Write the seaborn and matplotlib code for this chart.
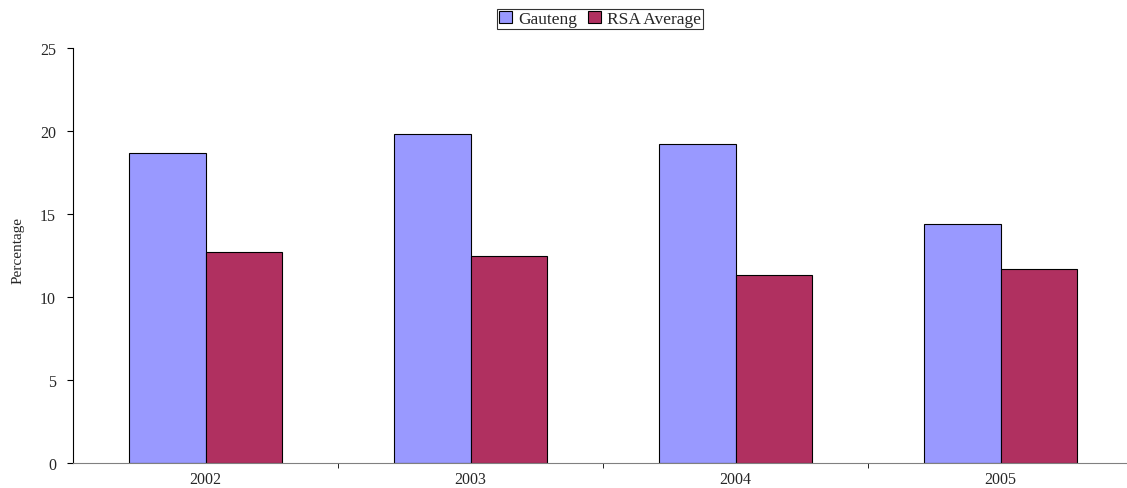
import pandas as pd
import matplotlib.pyplot as plt
import seaborn as sns
from matplotlib.ticker import FixedLocator

# values
years = ["2002", "2003", "2004", "2005"]
gauteng = [18.7, 19.8, 19.2, 14.4]
rsa_average = [12.7, 12.5, 11.3, 11.7]
series_names = ["Gauteng", "RSA Average"]
colors = ["#9999FF", "#B03060"]

df = pd.DataFrame({
    "year": years * 2,
    "value": gauteng + rsa_average,
    "series": [series_names[0]] * len(years) + [series_names[1]] * len(years),
})

sns.set_style("white")
plt.rcParams["font.family"] = ["Liberation Serif", "DejaVu Serif"]

fig = plt.figure(figsize=(11.27, 4.89), dpi=100)
ax = fig.add_axes([73 / 1127, 25 / 489, 1060 / 1127, 415 / 489])

sns.barplot(data=df, x="year", y="value", hue="series", palette=colors,
            width=0.58, gap=0, edgecolor="black", linewidth=0.8,
            saturation=1, ax=ax)

ax.set_xlim(-0.5, 3.5)
ax.set_ylim(0, 25)
ax.set_yticks([0, 5, 10, 15, 20, 25])
ax.set_xlabel("")
ax.set_ylabel("Percentage", fontsize=11)
ax.yaxis.set_label_coords(-0.046, 0.515)

ax.tick_params(axis="x", which="major", length=0, labelsize=11.5, pad=6)
ax.xaxis.set_minor_locator(FixedLocator([0.5, 1.5, 2.5]))
ax.tick_params(axis="x", which="minor", length=3.5, direction="out", color="black", bottom=True)
ax.tick_params(axis="y", length=4.3, direction="out", color="black", labelsize=11.5,
               pad=8, left=True)

sns.despine(ax=ax)
ax.spines["left"].set_color("black")
ax.spines["left"].set_linewidth(0.8)
ax.spines["bottom"].set_color("#808080")
ax.spines["bottom"].set_linewidth(0.8)

leg = ax.legend(loc="upper center", bbox_to_anchor=(600 / 1127, 479 / 489),
                bbox_transform=fig.transFigure, ncol=2, fontsize=12.5,
                frameon=True, fancybox=False, handlelength=0.75, handleheight=0.7,
                handletextpad=0.35, columnspacing=0.6, borderpad=0.12,
                borderaxespad=0)
leg.get_frame().set_edgecolor("black")
leg.get_frame().set_linewidth(0.8)

fig.savefig("out.png", dpi=100)
